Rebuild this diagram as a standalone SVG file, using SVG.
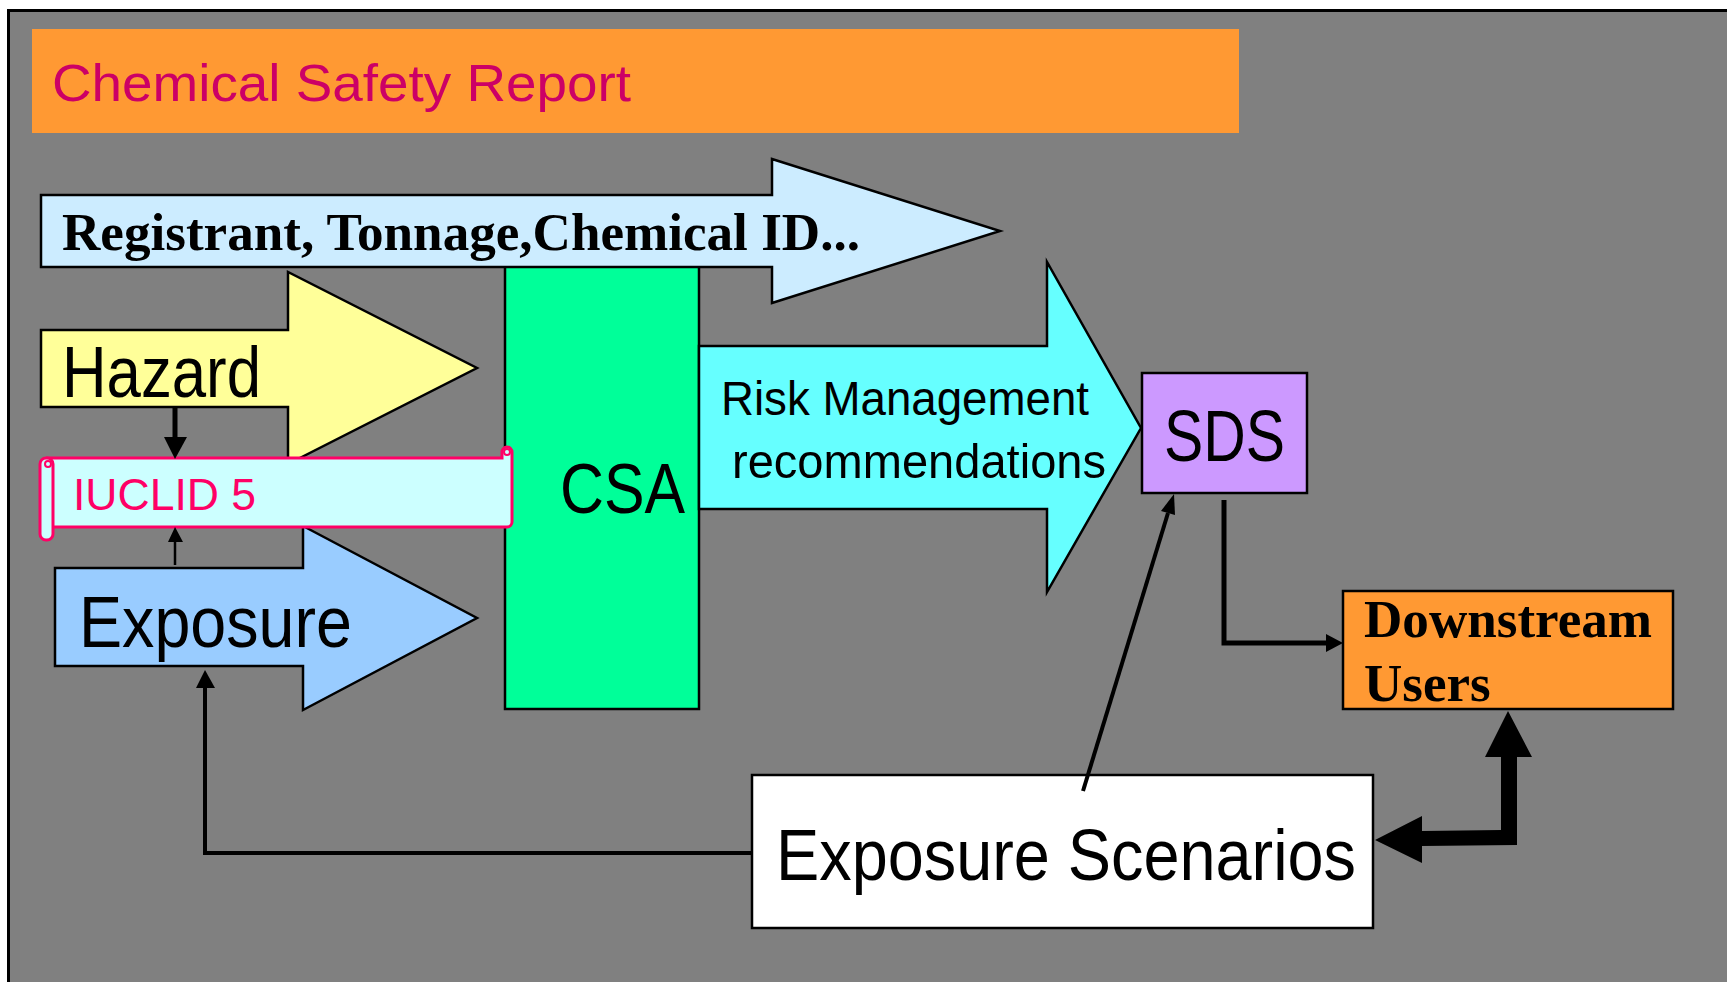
<svg xmlns="http://www.w3.org/2000/svg" width="1727" height="982" viewBox="0 0 1727 982">
<style>
.shape{stroke:#000;stroke-width:2.5;stroke-linejoin:miter}
.sans{font-family:"Liberation Sans",Arial,sans-serif;fill:#000}
.serif{font-family:"Liberation Serif","Times New Roman",serif;font-weight:bold;fill:#000}
.conn{fill:none;stroke:#000;stroke-linecap:butt}
.head{fill:#000;stroke:none}
.scroll{stroke:#FF0066;stroke-width:3;fill:#CCFFFF}
</style>
<rect width="1727" height="982" fill="#FFFFFF"/>
<g id="frame">
<rect x="8.5" y="10.5" width="1740" height="1000" fill="#808080" stroke="#000" stroke-width="3"/>
</g>
<g id="title">
<rect x="32" y="29" width="1207" height="104" fill="#FF9933"/>
<text x="52" y="101" class="sans" style="fill:#CC0066" font-size="52" textLength="579" lengthAdjust="spacingAndGlyphs">Chemical Safety Report</text>
</g>
<g id="csa">
<rect x="505" y="262" width="194" height="447" fill="#00FF99" class="shape"/>
<text x="560" y="513" class="sans" font-size="71" textLength="125" lengthAdjust="spacingAndGlyphs">CSA</text>
</g>
<g id="registrant">
<polygon points="41,195 772,195 772,159 1000,231 772,303 772,267 41,267" fill="#CCECFF" class="shape"/>
<text x="62" y="250" class="serif" font-size="53" textLength="798" lengthAdjust="spacingAndGlyphs">Registrant, Tonnage,Chemical ID...</text>
</g>
<g id="hazard">
<polygon points="41,330 288,330 288,272 477,368 288,464 288,407 41,407" fill="#FFFF99" class="shape"/>
<text x="62" y="397" class="sans" font-size="72" textLength="199" lengthAdjust="spacingAndGlyphs">Hazard</text>
</g>
<g id="exposure">
<polygon points="55,568 303,568 303,526 477,618 303,710 303,666 55,666" fill="#99CCFF" class="shape"/>
<text x="79" y="647" class="sans" font-size="72" textLength="273" lengthAdjust="spacingAndGlyphs">Exposure</text>
</g>
<g id="iuclid">
<path class="scroll" d="M46,458 H502 V452 A5,5 0 0 1 512,452 V522 A5,5 0 0 1 507,527 H53"/>
<rect class="scroll" x="40" y="458" width="13" height="82" rx="6"/>
<circle cx="48" cy="464" r="3" fill="none" stroke="#FF0066" stroke-width="2"/>
<circle cx="507" cy="452" r="3" fill="none" stroke="#FF0066" stroke-width="2"/>
<text x="73" y="510" class="sans" style="fill:#FF0066" font-size="44" textLength="183" lengthAdjust="spacingAndGlyphs">IUCLID 5</text>
</g>
<g id="risk">
<polygon points="699,346 1047,346 1047,262 1141,428 1047,592 1047,509 699,509" fill="#66FFFF" class="shape"/>
<text x="721" y="415" class="sans" font-size="49" textLength="368" lengthAdjust="spacingAndGlyphs">Risk Management</text>
<text x="732" y="478" class="sans" font-size="49" textLength="374" lengthAdjust="spacingAndGlyphs">recommendations</text>
</g>
<g id="sds">
<rect x="1142" y="373" width="165" height="120" fill="#CC99FF" class="shape"/>
<text x="1164" y="461" class="sans" font-size="72" textLength="121" lengthAdjust="spacingAndGlyphs">SDS</text>
</g>
<g id="downstream">
<rect x="1343" y="591" width="330" height="118" fill="#FF9933" class="shape"/>
<text x="1364" y="637" class="serif" font-size="53" textLength="288" lengthAdjust="spacingAndGlyphs">Downstream</text>
<text x="1364" y="701" class="serif" font-size="53">Users</text>
</g>
<g id="scenarios">
<rect x="752" y="775" width="621" height="153" fill="#FFFFFF" class="shape"/>
<text x="776" y="880" class="sans" font-size="72" textLength="580" lengthAdjust="spacingAndGlyphs">Exposure Scenarios</text>
</g>
<g id="connectors">
<line class="conn" x1="175" y1="407" x2="175" y2="440" stroke-width="5"/>
<polygon class="head" points="164,437 187,437 175,459"/>
<line class="conn" x1="175" y1="565" x2="175" y2="540" stroke-width="2.5"/>
<polygon class="head" points="168,542 183,542 175,527"/>
<polyline class="conn" points="752,853 205,853 205,686" stroke-width="4"/>
<polygon class="head" points="196,688 215,688 205,670"/>
<line class="conn" x1="1083" y1="791" x2="1168" y2="513" stroke-width="4"/>
<polygon class="head" points="1174,494 1175,515 1161,511"/>
<polyline class="conn" points="1224,500 1224,643 1328,643" stroke-width="5"/>
<polygon class="head" points="1326,634 1326,652 1343,643"/>
<polygon class="head" points="1508,711 1532,757 1517,757 1517,845 1422,846 1422,863 1375,840 1422,816 1422,831 1501,830 1501,757 1485,757"/>
</g>
</svg>
